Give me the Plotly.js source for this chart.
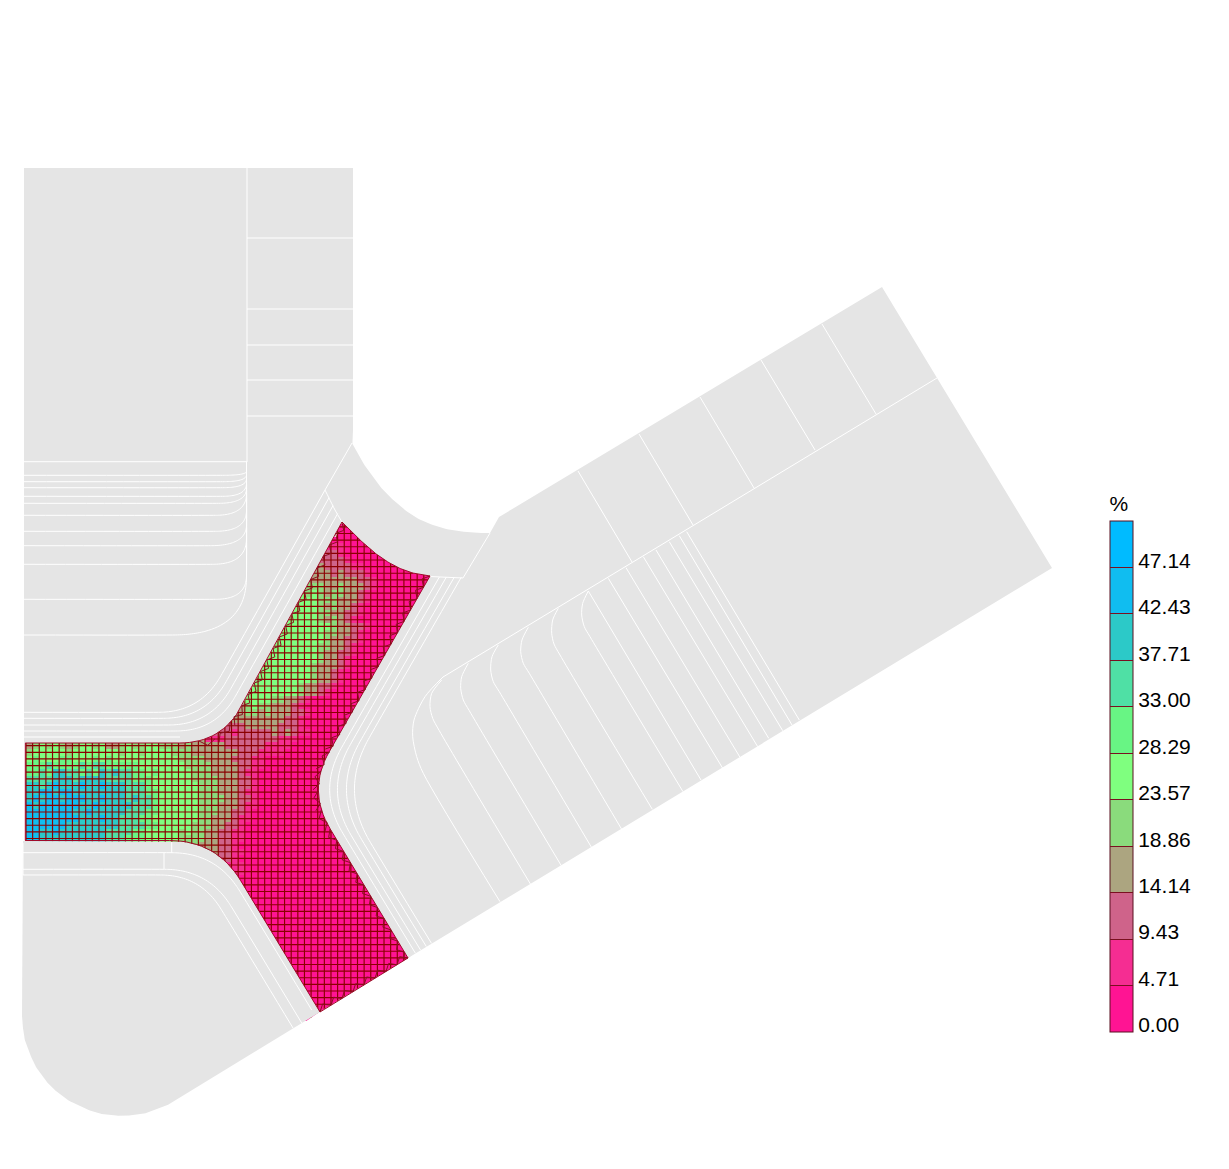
<!DOCTYPE html>
<html><head><meta charset="utf-8">
<script src="https://cdn.plot.ly/plotly-3.0.1.min.js"></script>
<style>html,body{margin:0;padding:0;background:#fff}</style></head>
<body><div id="chart" style="width:1229px;height:1169px"></div>
<script>
/* colour bands, bottom to top */
const bandColors=['#ff1493','#f52d92','#cf638a','#aca580','#8adb7c','#7fff7f','#68f584','#4fe0a5','#2cc9c8','#10bdf0','#00bbff'];
const bandEdges=[0,4.71,9.43,14.14,18.86,23.57,28.29,33.00,37.71,42.43,47.14];
const bandTop=51.86;
const tickLabels=['0.00','4.71','9.43','14.14','18.86','23.57','28.29','33.00','37.71','42.43','47.14'];
const gridX0=26, gridY0=520.25, gridStep=6.63, gridCols=61, gridRows=75;
/* mesh cells: band index per cell (a=10), '.' outside the mesh; spaces only for reading; short rows continue in band 0 */
const D4='.......... .......... .......... .......... ';
const D3='.......... .......... .......... ';
const D2='.......... .......... ';
const meshRows=[
'.......... .......... .......... .......... ........00 00.',
D4+'.......000 00..',
D4+'.......000 0000',
D4+'......0000 00000',
D4+'....111100',
D4+'....222100',
D4+'...3222210',
D4+'..33322221 1',
D4+'.33333232 2210',
D4+'.44333333 3221',
D4+'444443343 33210',
D3+'........44 45454344 3321',
D3+'........44 55554443 3321',
D3+'.......445 55554343 321',
D3+'.......444 55554433 221',
D3+'......4555 55554343 21',
D3+'......4445 5555554332 21',
D3+'.....44555 5555544332 1',
D3+'.....44555 5555543322 1',
D3+'....445555 5555443321',
D3+'....445555 5555433221',
D3+'...4455555 5555433210',
D3+'...4455555 5554333210',
D3+'..44555555 5554332100',
D3+'..44455555 5554332100',
D3+'.44455555 5543322100',
D3+'.44455555 5543321000',
D2+'........33 3345555 4433210000',
D2+'........33 3434544 3332100000',
D2+'.......333 23344343 3322100000',
D2+'.....33333 23333333 3221000000',
D2+'...2222222 222333332 2210000000',
D2+'.2222222222 1222223232 1100000000',
'3454544544 4534454454 4443433111 2222222211 1000000000',
'3454543455 4533454455 4443433333 2222221111',
'4555554555 5555455455 5544433333 3322211110',
'5655566555 6565555555 5554444333 3222110000',
'6667666676 7766666555 5555444433 3322110000',
'6676887767 6878776656 5555544433 3321100000',
'7777888788 8877776665 5555544443 3322100000',
'8878988898 8988877765 5555554443 3322100000',
'8899899888 8888877766 5555554443 3321100000',
'8989989998 8988878776 5555554444 3322100000',
'9899999988 9888887776 5555554443 3321100000',
'9999999889 8888877766 5555554443 3221000000',
'9999999988 8988777665 5555554433 3211000000',
'9999998888 8888777766 5555544433 2210000000',
'9988988888 8877776655 5554544332 2110000000',
'9988888888 8877766655 5554444332 2110000000',
D2+'....443332 2100000000',
D2+'......3332 2110000000',
D2+'.......222 2100000000',
D2+'........11 1110000000',
D2+'.........1 1110000000',
'','','','','','','','','','','','','','','','','','','','','',''
];
/* outlines of the grey parts: [x,y,corner size] */
const notchArc=[[352,443],[361,460],[370,473],[381,488],[393,500],[406,511],[420,520],[435,526],[450,530],[465,532],[477,533],[490,533]];
const bandArc=[[430,576],[416,574],[403,570],[391,564],[380,557],[370,549],[360,540],[351,531],[342,522]];
const footArc=[[172,1103],[160,1108],[148,1113],[135,1115],[122,1116],[109,1115],[96,1113],[84,1108],[72,1103],[61,1095],[51,1087],[43,1077],[35,1066],[30,1054],[25,1042],[23,1029],[22,1016]];
function chaikin(p){let a=p;for(let k=0;k<3;k++){const o=[a[0]];for(let i=0;i<a.length-1;i++){
  o.push([a[i][0]*.75+a[i+1][0]*.25,a[i][1]*.75+a[i+1][1]*.25],[a[i][0]*.25+a[i+1][0]*.75,a[i][1]*.25+a[i+1][1]*.75]);}
  o.push(a[a.length-1]);a=o;}return a;}
const greyUpper=[[24,168],[353,168],[353,430],...chaikin(notchArc),[499,517],[882,287],[1052,568],[408,958],[307,790.5,45],...chaikin(bandArc),[221.6,743,42],[24,743]];
const greyLower=[[23,841],[216.5,841,47],[320,1012],...chaikin(footArc)];
const whiteMasks=[[[320,1011.5],[408,958],[440,930],[440,1060],[250,1060]],[[395,500],[440,500],[440,540],[395,540]]];
const meshOutline=[[342,522],[221.6,743,42],[25.3,743],[25.3,840.5],[216.5,840.5,47],[320,1012],[408,958],[307,790.5,45],...chaikin(bandArc)];
/* teeth along the mesh border: start, end, side */
const toothEdges=[[[342,522],[241.8,706],1],[[241.8,706],[230.3,722],1],[[230.3,722],[215,738.8],1],[[215,738.8],[199,741],1],[[430,576],[330,751.8],-1],[[330,751.8],[321.3,771],-1],[[321.3,771],[318.5,790.5],-1],[[318.5,790.5],[321.3,810],-1],[[321.3,810],[330,829],-1],[[330,829],[408,958],-1],[[408,958],[320,1012],-1]];
/* white part lines */
const whiteLines=[
[[247,168],[247,462]],[[24,461.7],[247,461.7]],
[[247,238],[353,238]],[[247,309],[353,309]],[[247,345],[353,345]],[[247,380],[353,380]],[[247,416],[353,416]],
[[246.5,462],[246.5,577]],
[[24,475.3],[246.5,475.3,24,4],[246.5,462]],
[[24,481.7],[246.5,481.7,24,7],[246.5,462]],
[[24,487.7],[246.5,487.7,24,9],[246.5,462]],
[[24,496.3],[246.5,496.3,24,13],[246.5,462]],
[[24,503.3],[246.5,503.3,28,15],[246.5,462]],
[[24,515.3],[246.5,515.3,31,22],[246.5,462]],
[[24,531.3],[246.5,531.3,31,21],[246.5,462]],
[[24,545.7],[246.5,545.7,36,21],[246.5,462]],
[[24,564.3],[246.5,564.3,34,26],[246.5,462]],
[[24,599.3],[246.5,599.3,31,24],[246.5,462]],
[[24,635],[246.5,635,74,58],[246.5,462]],
[[24,712.3],[200.4,712.3,42],[325,490]],
[[24,718.3],[205.6,718.3,42],[329,497.7]],
[[24,725],[210.5,725,42],[333,505.6]],
[[24,731],[215.9,731,40],[337.7,513.5]],
[[24,737],[180,737]],
[[352,443],[325,490]],[[325,490],[329,498],[335,510],[342,522]],
[[430,576.5],[463,578]],[[463,578],[490,533]],
[[439.4,577],[317,790.5,50],[415.4,953.2]],
[[446.4,577],[324,790.5,53],[420.5,950]],
[[454.4,577],[332,790.5,57],[426.3,946.5]],
[[461.4,577],[339,790.5,61],[431.5,943.4]],
[[822,324],[876,414]],[[761,360],[815,450]],[[700,397],[754,488]],[[639,434],[693,525]],[[578,471],[632,562]],
[[937,378],[443,677]],
[[588.3,591],[582.7,603.3],[581.7,615],[584.3,626.7],[590,636.7],[683,791.7]],
[[558.3,608.3],[552.7,620],[551.7,633.3],[554,644],[560,655],[652.3,809.3]],
[[528.3,627.3],[522,640],[520.7,651.7],[523.3,663.3],[529.3,673.3],[621.7,829.3]],
[[498.3,645],[492,656.7],[490.7,670],[493.3,681.7],[499.3,691.7],[591.7,847.7]],
[[468.3,663.3],[461.7,676.7],[460.7,688.3],[463.3,700],[469.3,710.7],[561.3,865.7]],
[[441.7,680],[431.7,693.3],[430,706.7],[432.7,718.3],[439.3,730.7],[531,885]],
[[443.3,676.7],[425,696.7],[414,720],[412.7,736.7],[416.7,756.7],[423.3,773.3],[500,901.7]],
[[588.3,591],[701,780]],[[608.3,578.3],[722.7,768.3]],[[626,567.7],[740,757.3]],[[643.3,556.7],[757.7,746.7]],
[[656,550],[768.7,738.3]],[[669.3,541.7],[782.7,730.7]],[[679.3,535.7],[792,725]],[[686.7,531.7],[799.3,720]],
[[23,852.7],[216.5,852.7,45],[311.7,1010]],
[[23,869.3],[208.7,869.3,44],[301.7,1023]],
[[23,875],[200.4,875,40],[293,1028]],
[[164,853],[164,869]],[[171.7,842],[171.7,853]],[[23,843],[23,875]]
];

function rounded(pts){
  const xs=[],ys=[];
  pts.forEach((p,i)=>{
    if(!p[2]){xs.push(p[0]);ys.push(p[1]);return;}
    const a=pts[i-1]||pts[pts.length-1], b=pts[i+1]||pts[0];
    const la=Math.hypot(a[0]-p[0],a[1]-p[1]), lb=Math.hypot(b[0]-p[0],b[1]-p[1]);
    const d1=p[2], d2=p[3]||p[2];
    const s=[p[0]+(a[0]-p[0])/la*d1,p[1]+(a[1]-p[1])/la*d1], e=[p[0]+(b[0]-p[0])/lb*d2,p[1]+(b[1]-p[1])/lb*d2];
    for(let t=0;t<=1.0001;t+=1/16){
      const u=1-t;
      xs.push(u*u*s[0]+2*u*t*p[0]+t*t*e[0]);
      ys.push(u*u*s[1]+2*u*t*p[1]+t*t*e[1]);
    }
  });
  return [xs,ys];
}
const edgesX=Array.from({length:gridCols+1},(_,i)=>gridX0+i*gridStep);
const edgesY=Array.from({length:gridRows+1},(_,i)=>gridY0+i*gridStep);
const bandWidth=bandTop/bandColors.length;
const z=meshRows.map(r=>{
  const s=r.replace(/ /g,''),row=[];
  for(let c=0;c<gridCols;c++){
    const ch=c<s.length?s[c]:'0';
    row.push(ch==='.'?null:(parseInt(ch,16)+0.5)*bandWidth);
  }
  return row;
});
const scale=[];
bandColors.forEach((c,i)=>{scale.push([i/bandColors.length,c]);scale.push([(i+1)/bandColors.length,c]);});
const cbBase={x:1110/1229,xanchor:'left',xpad:0,y:(1169-1032)/1169,yanchor:'bottom',ypad:0,len:539/1169,lenmode:'fraction',
    thickness:23,thicknessmode:'pixels',borderwidth:0};
const labelVals=bandEdges.map(v=>v+0.71);
const traces=[{
  type:'heatmap',x:edgesX,y:edgesY,z:z,zmin:0,zmax:bandTop,colorscale:scale,hoverinfo:'skip',
  colorbar:Object.assign({},cbBase,{outlinecolor:'#5a1020',outlinewidth:1,
    tickmode:'array',tickvals:labelVals,ticktext:tickLabels,ticks:'',
    tickfont:{family:'Liberation Sans',size:21,color:'#000'},
    title:{text:'%',side:'top',font:{family:'Liberation Sans',size:21,color:'#000'}}})
},{
  /* transparent second bar: draws only the separators between bands */
  type:'heatmap',x:[-20,-10],y:[-20,-10],z:[[1]],zmin:0,zmax:bandTop,hoverinfo:'skip',
  colorscale:[[0,'rgba(0,0,0,0)'],[1,'rgba(0,0,0,0)']],
  colorbar:Object.assign({},cbBase,{outlinecolor:'rgba(0,0,0,0)',outlinewidth:0,
    tickmode:'array',tickvals:bandEdges,showticklabels:false,ticks:'inside',ticklen:23,tickwidth:1,tickcolor:'#7a1020',
    title:{text:'%',side:'top',font:{family:'Liberation Sans',size:21,color:'rgba(0,0,0,0)'}}})
}];
/* grid lines */
const gx=[],gy=[];
edgesX.forEach(x=>{gx.push(x,x,null);gy.push(edgesY[0],edgesY[gridRows],null);});
edgesY.forEach(y=>{gx.push(edgesX[0],edgesX[gridCols],null);gy.push(y,y,null);});
traces.push({type:'scatter',mode:'lines',x:gx,y:gy,line:{color:'#8b0000',width:1.15},hoverinfo:'skip'});
function poly(pts,color){const [x,y]=rounded(pts);x.push(x[0]);y.push(y[0]);
  return {type:'scatter',mode:'lines',x,y,fill:'toself',fillcolor:color,line:{color:color,width:0},hoverinfo:'skip'};}
whiteMasks.forEach(m=>traces.push(poly(m,'#ffffff')));
traces.push(poly(greyUpper,'#e5e5e5'));
traces.push(poly(greyLower,'#e5e5e5'));
/* white lines */
const wx=[],wy=[];
whiteLines.forEach(l=>{const [x,y]=rounded(l);wx.push(...x,null);wy.push(...y,null);});
traces.push({type:'scatter',mode:'lines',x:wx,y:wy,line:{color:'#ffffff',width:1,shape:'spline',smoothing:0.8},hoverinfo:'skip'});
/* mesh border and teeth */
const bo=rounded(meshOutline);
traces.push({type:'scatter',mode:'lines',x:bo[0],y:bo[1],line:{color:'#a00a2a',width:1},hoverinfo:'skip'});
const tx=[],ty=[];
toothEdges.forEach(([a,b,side])=>{
  const L=Math.hypot(b[0]-a[0],b[1]-a[1]),n=Math.max(2,Math.round(L/6.6)),ux=(b[0]-a[0])/L,uy=(b[1]-a[1])/L;
  for(let i=0;i<=n;i++){
    const d=L*i/n,off=(i%2?5.5:0)*side;
    tx.push(a[0]+ux*d+uy*off);ty.push(a[1]+uy*d-ux*off);
  }
  tx.push(null);ty.push(null);
});
traces.push({type:'scatter',mode:'lines',x:tx,y:ty,line:{color:'#8b1020',width:1},hoverinfo:'skip'});

const layout={width:1229,height:1169,margin:{l:0,r:0,t:0,b:0,pad:0},paper_bgcolor:'#fff',plot_bgcolor:'#fff',showlegend:false,
  xaxis:{range:[0,1229],visible:false,fixedrange:true},
  yaxis:{range:[1169,0],visible:false,fixedrange:true}};
Plotly.newPlot('chart',traces,layout,{displayModeBar:false,staticPlot:true});
</script></body></html>
